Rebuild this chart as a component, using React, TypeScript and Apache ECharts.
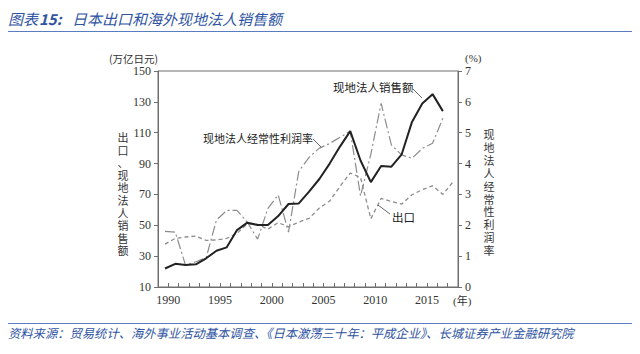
import React, { useEffect, useRef } from 'react';
import * as echarts from 'echarts';

// ---- data ----
const years = [1989, 1990, 1991, 1992, 1993, 1994, 1995, 1996, 1997, 1998, 1999, 2000, 2001, 2002, 2003, 2004, 2005, 2006, 2007, 2008, 2009, 2010, 2011, 2012, 2013, 2014, 2015, 2016, 2017];
// 现地法人销售额 (万亿日元), 1989-2016
const salesValues = [22, 25, 24.3, 24.7, 28.6, 33.5, 35.7, 46.9, 51.7, 50.2, 50.2, 56, 63.8, 64.2, 71.8, 80, 90, 101, 111, 92, 78, 88.4, 88, 96, 117, 129, 135, 124];
// 出口 (万亿日元), 1989-2017
const exportValues = [37.8, 41.5, 42.4, 43.0, 40.2, 40.5, 41.5, 44.7, 51.0, 50.6, 47.5, 51.7, 49.0, 52.1, 54.5, 61.2, 65.7, 75.2, 83.9, 81.0, 54.2, 67.4, 65.5, 63.7, 69.8, 73.1, 75.6, 70.0, 78.3];
// 现地法人经常性利润率 (%), 1989-2016
const profitRateValues = [1.8, 1.78, 0.7, 0.82, 0.95, 2.17, 2.48, 2.48, 2.1, 1.55, 2.55, 2.98, 1.78, 3.75, 4.2, 4.5, 4.65, 4.85, 5.05, 2.95, 4.3, 5.95, 4.6, 4.28, 4.17, 4.49, 4.66, 5.47];

const leftAxisMin = 10, leftAxisMax = 150, leftAxisStep = 20;
const rightAxisMin = 0, rightAxisMax = 7, rightAxisStep = 1;
const xLabelStep = 5;

const titleLeadA = '图表';
const titleLeadB = '15:';
const titleMain = '日本出口和海外现地法人销售额';
const sourceText = '资料来源：贸易统计、海外事业活动基本调查、《日本激荡三十年：平成企业》、长城证券产业金融研究院';
const leftTitle = '出口、现地法人销售额';
const rightTitle = '现地法人经常性利润率';

const CJK = '"Noto Sans CJK SC", sans-serif';
const TIGHT_CJK = '"Liberation Serif", "Noto Sans CJK SC", sans-serif';
const SERIF = '"Liberation Serif", "DejaVu Serif", "Noto Sans CJK SC", serif';
const BLUE = '#2f54a3';

function pairs(vals: number[]) {
  return vals.map((v, i) => [years[i], v]);
}

function verticalText(str: string, x: number, y0: number, step: number) {
  return str.split('').map((ch, i) => ({
    type: 'text',
    x, y: y0 + i * step,
    style: { text: ch, font: `11px ${TIGHT_CJK}`, fill: '#333', align: 'center', verticalAlign: 'middle' },
  }));
}

export default function App() {
  const ref = useRef<HTMLDivElement>(null);
  useEffect(() => {
    if (!ref.current) return;
    const chart = echarts.init(ref.current, undefined, { renderer: 'svg' });
    const axisColor = '#6f6f6f';
    const labelStyle = { fontFamily: SERIF, fontSize: 12, color: '#333' };
    chart.setOption({
      animation: false,
      backgroundColor: '#fff',
      grid: {
        left: 158, top: 71, width: 300, height: 216,
        containLabel: false, outerBoundsMode: 'none',
        show: true, borderColor: axisColor, borderWidth: 1, backgroundColor: 'transparent',
      },
      xAxis: [
        {
          type: 'value', min: 1989, max: 2018, interval: 1, position: 'bottom',
          axisLine: { show: true, lineStyle: { color: axisColor, width: 1 } },
          axisTick: { show: true, inside: true, length: 4, lineStyle: { color: axisColor } },
          axisLabel: {
            ...labelStyle, margin: 7,
            formatter: (v: number) => (v % xLabelStep === 0 ? String(v) : ''),
          },
          splitLine: { show: false },
        },
        {
          type: 'value', min: 1988.32, max: 2017.47, show: false,
          splitLine: { show: false },
        },
      ],
      yAxis: [
        {
          type: 'value', min: leftAxisMin, max: leftAxisMax, interval: leftAxisStep, position: 'left',
          axisLine: { show: true, lineStyle: { color: axisColor, width: 1 } },
          axisTick: { show: true, length: 4, lineStyle: { color: axisColor } },
          axisLabel: { ...labelStyle, margin: 7 },
          splitLine: { show: false },
        },
        {
          type: 'value', min: rightAxisMin, max: rightAxisMax, interval: rightAxisStep, position: 'right',
          axisLine: { show: true, lineStyle: { color: axisColor, width: 1 } },
          axisTick: { show: true, length: 4, lineStyle: { color: axisColor } },
          axisLabel: { ...labelStyle, margin: 7 },
          splitLine: { show: false },
        },
      ],
      series: [
        {
          type: 'line', name: '出口', xAxisIndex: 1, yAxisIndex: 0,
          data: pairs(exportValues), symbol: 'none', z: 2,
          lineStyle: { color: '#8c8c8c', width: 1.3, type: [4, 3] },
        },
        {
          type: 'line', name: '现地法人经常性利润率', xAxisIndex: 1, yAxisIndex: 1,
          data: pairs(profitRateValues), symbol: 'none', z: 2,
          lineStyle: { color: '#8c8c8c', width: 1.2, type: [10, 3, 2, 3] },
        },
        {
          type: 'line', name: '现地法人销售额', xAxisIndex: 1, yAxisIndex: 0,
          data: pairs(salesValues), symbol: 'none', z: 3,
          lineStyle: { color: '#222', width: 2 },
        },
      ],
      graphic: [
        { type: 'text', x: 8, y: 18, style: { text: titleLeadA, font: `italic 15px ${CJK}`, fill: BLUE, verticalAlign: 'middle' } },
        { type: 'text', x: 39, y: 18, style: { text: titleLeadB, font: `italic bold 15px ${CJK}`, fill: BLUE, verticalAlign: 'middle' } },
        { type: 'text', x: 72, y: 18, style: { text: titleMain, font: `italic 15px ${CJK}`, fill: BLUE, verticalAlign: 'middle' } },
        { type: 'line', shape: { x1: 8, y1: 31.5, x2: 632, y2: 31.5 }, style: { stroke: '#5a7cc0', lineWidth: 1 } },
        { type: 'line', shape: { x1: 8, y1: 323.5, x2: 632, y2: 323.5 }, style: { stroke: '#5a7cc0', lineWidth: 1 } },
        { type: 'text', x: 8, y: 333, style: { text: sourceText, font: `italic 12.3px ${CJK}`, fill: BLUE, verticalAlign: 'middle' } },

        { type: 'text', x: 158, y: 58, style: { text: '(万亿日元)', font: `10.5px ${CJK}`, fill: '#333', align: 'right', verticalAlign: 'middle' } },
        { type: 'text', x: 465, y: 58, style: { text: '(%)', font: `11px ${SERIF}`, fill: '#333', verticalAlign: 'middle' } },
        { type: 'text', x: 453, y: 301, style: { text: '(年)', font: `11px ${TIGHT_CJK}`, fill: '#333', verticalAlign: 'middle' } },

        ...verticalText(leftTitle, 123, 138, 12.6),
        ...verticalText(rightTitle, 489, 135, 12.9),

        { type: 'text', x: 333, y: 87, style: { text: '现地法人销售额', font: `11.5px ${CJK}`, fill: '#222', verticalAlign: 'middle' } },
        { type: 'line', shape: { x1: 413, y1: 89, x2: 422, y2: 98 }, style: { stroke: '#444', lineWidth: 0.8 } },
        { type: 'text', x: 203, y: 138, style: { text: '现地法人经常性利润率', font: `11px ${CJK}`, fill: '#222', verticalAlign: 'middle' } },
        { type: 'line', shape: { x1: 313, y1: 139, x2: 322, y2: 148 }, style: { stroke: '#444', lineWidth: 0.8 } },
        { type: 'text', x: 392, y: 217, style: { text: '出口', font: `11.5px ${CJK}`, fill: '#222', verticalAlign: 'middle' } },
        { type: 'line', shape: { x1: 390, y1: 214, x2: 378, y2: 205 }, style: { stroke: '#444', lineWidth: 0.8 } },
      ],
    });
    return () => chart.dispose();
  }, []);
  return <div ref={ref} style={{ position: 'fixed', left: 0, top: 0, width: 640, height: 354, background: '#fff' }} />;
}
